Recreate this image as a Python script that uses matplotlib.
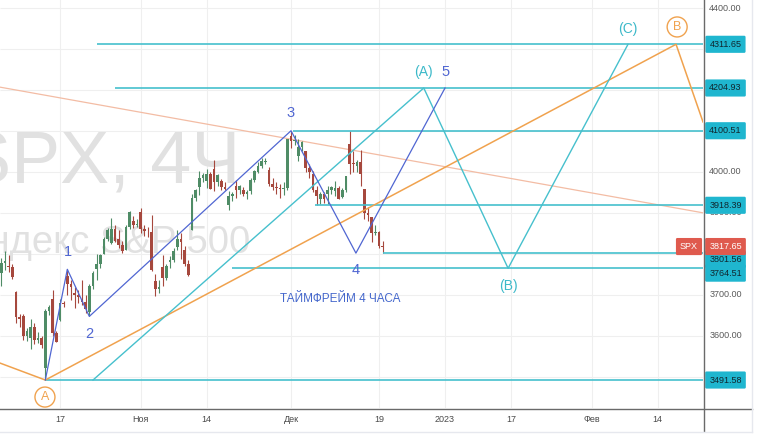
import matplotlib.pyplot as plt
from matplotlib.lines import Line2D
from matplotlib import font_manager

plt.rcParams['font.family'] = ['Liberation Sans', 'DejaVu Sans']

# SPX 4H bars, 5 Oct - 19 Dec 2022 (two bars per session, one on 25 Nov)
opens = [3753, 3778, 3771, 3768, 3707, 3645, 3647, 3600, 3595, 3620, 3590, 3595,
         3520, 3660, 3690, 3606, 3638, 3680, 3746, 3725, 3703, 3700, 3689, 3682,
         3657, 3722, 3762, 3775, 3799, 3836, 3826, 3860, 3835, 3822, 3808, 3865,
         3881, 3870, 3901, 3860, 3853, 3852, 3733, 3715, 3767, 3740, 3780, 3785,
         3817, 3835, 3810, 3775, 3859, 3935, 3964, 3985, 3977, 3995, 4007, 3975,
         3977, 3962, 3920, 3942, 3966, 3955, 3956, 3945, 3953, 3980, 4000, 4015,
         4024, 4005, 3970, 3964, 3960, 3958, 3960, 4087, 4075, 4040, 4060, 4052,
         4010, 3996, 3955, 3934, 3945, 3947, 3955, 3954, 3960, 3939, 3955, 4069,
         4020, 4015, 4025, 3958, 3900, 3890, 3850, 3853, 3820]
highs = [3790, 3806, 3797, 3775, 3710, 3652, 3652, 3618, 3640, 3630, 3608, 3600,
         3665, 3675, 3712, 3612, 3689, 3685, 3762, 3735, 3719, 3712, 3736, 3700,
         3725, 3757, 3799, 3799, 3840, 3862, 3887, 3870, 3859, 3832, 3870, 3905,
         3893, 3885, 3911, 3870, 3865, 3894, 3750, 3735, 3796, 3775, 3795, 3813,
         3859, 3850, 3818, 3785, 3945, 3959, 4001, 3998, 4008, 4000, 4028, 3995,
         3983, 3975, 3954, 3952, 3980, 3968, 3962, 3955, 3985, 4004, 4025, 4034,
         4034, 4013, 3985, 3976, 3970, 3975, 4080, 4100.5, 4090, 4080, 4075, 4052,
         4020, 4001, 3965, 3951, 3950, 3966, 3966, 3977, 3965, 3960, 3990, 4100,
         4050, 4030, 4053, 3959, 3915, 3890, 3870, 3855, 3830]
lows = [3722, 3760, 3755, 3739, 3630, 3620, 3590, 3588, 3568, 3580, 3582, 3571,
        3491.6, 3650, 3600, 3584, 3636, 3670, 3700, 3686, 3668, 3680, 3675, 3656,
        3647, 3715, 3735, 3765, 3799, 3830, 3825, 3828, 3815, 3803, 3808, 3860,
        3864, 3866, 3850, 3843, 3840, 3759, 3698, 3705, 3721, 3735, 3764, 3780,
        3810, 3786, 3770, 3745, 3859, 3930, 3944, 3975, 3960, 3957, 3954, 3965,
        3955, 3955, 3907, 3930, 3935, 3945, 3940, 3933, 3947, 3975, 3998, 4010,
        4020, 3965, 3956, 3945, 3937, 3944, 3955, 4058, 4065, 4026, 4050, 4000,
        3984, 3950, 3918.4, 3922, 3925, 3921, 3945, 3940, 3933, 3935, 3950, 3994,
        4000, 4000, 3966, 3885, 3879, 3828, 3845, 3815, 3801.6]
closes = [3778, 3783, 3768, 3744, 3645, 3640, 3600, 3612, 3620, 3589, 3595, 3577,
          3660, 3669, 3606, 3585, 3680, 3677, 3725, 3720, 3700, 3695, 3682, 3666,
          3722, 3752, 3775, 3797, 3836, 3859, 3860, 3831, 3822, 3807, 3865, 3901,
          3870, 3872, 3860, 3856, 3852, 3760, 3715, 3720, 3740, 3771, 3785, 3807,
          3835, 3828, 3775, 3749, 3935, 3956, 3985, 3993, 3995, 3958, 3975, 3992,
          3962, 3959, 3942, 3947, 3955, 3965, 3945, 3950, 3980, 4003, 4015, 4027,
          4026, 3970, 3964, 3960, 3958, 3960, 4080, 4075, 4076, 4060, 4072, 4010,
          3999, 3955, 3941, 3945, 3933, 3955, 3963, 3960, 3934, 3955, 3990, 4020,
          4019, 4025, 3995, 3900, 3895, 3850, 3852, 3820, 3817.65]

tick_bars = [16, 38, 56, 79, 103, 121, 139, 161, 179]
tick_labels = ['17', 'Ноя', '14', 'Дек', '19', '2023', '17', 'Фев', '14']
price_grid = [3500, 3600, 3700, 3800, 3900, 4000, 4100, 4200, 4300, 4400]

level_prices = [4311.65, 4204.93, 4100.51, 3918.39, 3801.56, 3764.51, 3491.58]
level_starts = [26.1, 31, 79.5, 85.5, 104, 62.9, 12]

# Elliott wave drawings (bar index, price)
wave_x = [12, 18, 24, 79, 96.7, 121]
wave_y = [3491.58, 3762, 3647, 4100.51, 3801.56, 4204.93]
abc_x = [25, 115.2, 138.2, 170.9]
abc_y = [3491.58, 4204.93, 3764.51, 4311.65]
big_x = [-0.36, 12, 184, 191.35]
big_y = [3533, 3491.58, 4311.65, 4122]
trend_x = [-0.36, 191.35]
trend_y = [4207, 3900]
last_price = 3817.65

GREEN = '#4f8c66'
RED = '#a6483d'
BLUE = '#5066d2'
CYAN = '#46c0cd'
ORANGE = '#f0a24e'
SALMON = '#f3bca4'
BOX = '#1fb6cf'

names = {f.name for f in font_manager.fontManager.ttflist}
wm_font = 'Liberation Sans Narrow' if 'Liberation Sans Narrow' in names else 'Liberation Sans'

W, H = 758, 443
fig = plt.figure(figsize=(W / 100, H / 100), dpi=100)
ax = fig.add_axes([0, 35 / H, 703 / W, 408 / H])
xmin, xmax = -0.36, 191.35
ax.set_xlim(xmin, xmax)
ax.set_ylim(3423.25, 4419.85)
for s in ax.spines.values():
    s.set_visible(False)
ax.set_xticks([])
ax.set_yticks([])

# grid
ax.hlines(price_grid, xmin, xmax, color='#efefef', lw=0.8, zorder=0)
ax.vlines(tick_bars, 3400, 4450, color='#efefef', lw=0.8, zorder=0)

# watermark
ax.text(240 / 703, (408 - 183) / 408, 'SPX, 4Ч', transform=ax.transAxes, ha='right',
        va='baseline', fontsize=53, color='#e1e1e1', family=wm_font, zorder=1)
ax.text(250 / 703, (408 - 253) / 408, 'Индекс S&P 500', transform=ax.transAxes, ha='right',
        va='baseline', fontsize=27.5, color='#e1e1e1', family=wm_font, zorder=1)

# candles
idx = list(range(len(opens)))
cols = [GREEN if c >= o else RED for o, c in zip(opens, closes)]
ax.vlines(idx, lows, highs, colors=cols, lw=0.8, zorder=3)
heights = [max(abs(c - o), 2) for o, c in zip(opens, closes)]
bottoms = [min(o, c) for o, c in zip(opens, closes)]
ax.bar(idx, heights, bottom=bottoms, width=0.75, color=cols, lw=0, zorder=3)

# drawings
ax.plot(trend_x, trend_y, color=SALMON, lw=0.9, zorder=2)
ax.hlines(level_prices, level_starts, xmax, color=CYAN, lw=1.2, zorder=4)
ax.plot(big_x, big_y, color=ORANGE, lw=1.1, zorder=4)
ax.plot(abc_x, abc_y, color=CYAN, lw=1.0, zorder=4)
ax.plot(wave_x, wave_y, color=BLUE, lw=0.9, zorder=4)

for x, y, s in [(18.2, 3804, '1'), (23.9, 3604, '2'), (79, 4144, '3'),
                (96.7, 3760, '4'), (121.2, 4244, '5')]:
    ax.text(x, y, s, color=BLUE, fontsize=10.5, ha='center', va='center', zorder=5)
for x, y, s in [(115.2, 4244, '(A)'), (138.2, 3721, '(B)'), (170.9, 4349, '(C)')]:
    ax.text(x, y, s, color='#3cb9c9', fontsize=10, ha='center', va='center', zorder=5)
for x, y, s in [(11.9, 3450, 'A'), (184.3, 4354, 'B')]:
    ax.text(x, y, s, color=ORANGE, fontsize=9, ha='center', va='center', zorder=6,
            bbox=dict(boxstyle='circle,pad=0.32', fc='white', ec=ORANGE, lw=1))
ax.text(92.4, 3689, 'ТАЙМФРЕЙМ 4 ЧАСА', color='#4467cc', fontsize=8.5,
        ha='center', va='center', zorder=5)

# price scale
ytr = ax.get_yaxis_transform()
px_x = 725.5 / 703
for p in price_grid:
    ax.text(px_x, p, f'{p:.2f}', transform=ytr, ha='center', va='center',
            fontsize=6.5, color='#5a5a5a', clip_on=False, zorder=6)
nudge = {3801.56: -4.5, 3764.51: -3.5}
for p in level_prices:
    ax.annotate(f'{p:.2f}', (px_x, p), xycoords=ytr, xytext=(0, nudge.get(p, 0)),
                textcoords='offset points', ha='center', va='center', fontsize=6.5,
                color='#10262e', annotation_clip=False, zorder=7,
                bbox=dict(boxstyle='round,pad=0.45,rounding_size=0.15', fc=BOX, ec='none'))
ax.text(px_x, last_price, f'{last_price:.2f}', transform=ytr, ha='center', va='center',
        fontsize=6.5, color='white', clip_on=False, zorder=8,
        bbox=dict(boxstyle='round,pad=0.45,rounding_size=0.15', fc='#df5a4e', ec='none'))
ax.text(689 / 703, last_price, 'SPX', transform=ytr, ha='center', va='center',
        fontsize=6.5, color='white', clip_on=False, zorder=8,
        bbox=dict(boxstyle='round,pad=0.45,rounding_size=0.15', fc='#df5a4e', ec='none'))

# time scale
xtr = ax.get_xaxis_transform()
for b, lab in zip(tick_bars, tick_labels):
    ax.text(b, -11 / 408, lab, transform=xtr, ha='center', va='center',
            fontsize=6.5, color='#4a4a4a', clip_on=False)


def fig_line(x0, y0, x1, y1, color, lw):
    fig.add_artist(Line2D([x0 / W, x1 / W], [1 - y0 / H, 1 - y1 / H],
                          transform=fig.transFigure, color=color, lw=lw))


fig_line(0, 408.5, 752, 408.5, '#6a6a6a', 1.0)
fig_line(703.5, 0, 703.5, 431, '#6a6a6a', 1.0)
fig_line(0, 431.5, 752, 431.5, '#e6e8ee', 1.0)
fig_line(752, 0, 752, 432, '#e6e8ee', 1.0)

fig.savefig('out.png', dpi=100)
